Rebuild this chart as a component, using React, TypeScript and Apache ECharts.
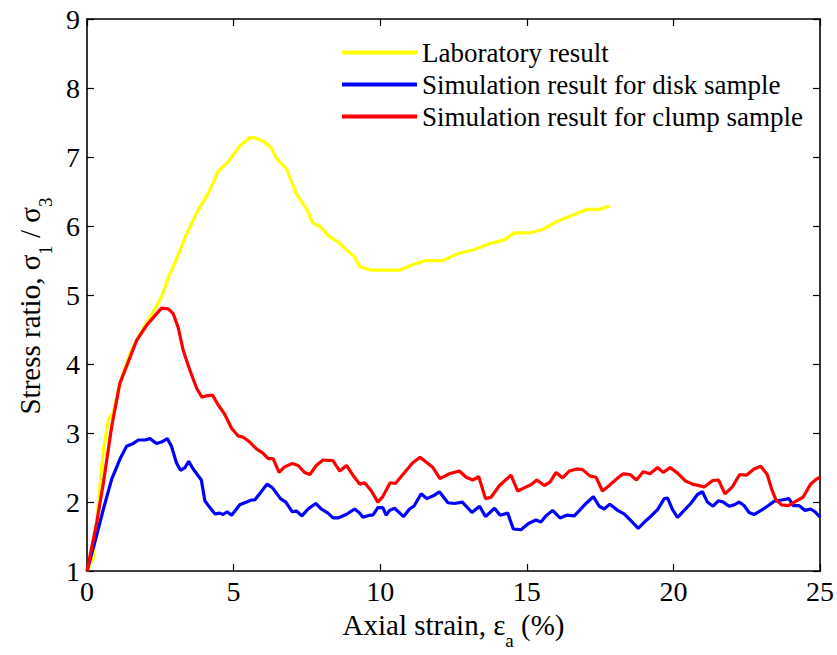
import React, { useEffect, useRef } from "react";
import * as echarts from "echarts";

const xTicks = [0, 5, 10, 15, 20, 25];
const yTicks = [1, 2, 3, 4, 5, 6, 7, 8, 9];

const legendNames = [
  "Laboratory result",
  "Simulation result for disk sample",
  "Simulation result for clump sample",
];

const laboratory: [number, number][] = [
  [0, 1.0], [0.21, 1.18], [0.56, 2.76], [0.73, 3.19], [0.9, 3.31], [1.12, 3.72],
  [1.46, 4.15], [1.81, 4.44], [2.15, 4.68], [2.54, 4.97], [2.77, 5.25], [3.05, 5.52],
  [3.34, 5.83], [3.74, 6.19], [4.13, 6.47], [4.47, 6.79], [4.81, 6.93], [5.21, 7.16],
  [5.55, 7.28], [5.72, 7.28], [6.01, 7.23], [6.29, 7.13], [6.46, 6.98], [6.8, 6.83],
  [7.14, 6.47], [7.54, 6.21], [7.69, 6.05], [7.96, 5.99], [8.25, 5.85], [8.56, 5.77],
  [8.84, 5.66], [9.13, 5.55], [9.3, 5.41], [9.69, 5.36], [10.66, 5.36], [11.17, 5.45],
  [11.57, 5.5], [12.13, 5.5], [12.65, 5.6], [13.22, 5.66], [13.78, 5.75], [14.24, 5.8],
  [14.58, 5.9], [15.09, 5.9], [15.54, 5.95], [16.0, 6.06], [16.51, 6.15], [17.04, 6.24],
  [17.47, 6.24], [17.84, 6.29],
];

const diskSample: [number, number][] = [
  [0, 1.0], [0.33, 1.52], [0.56, 1.9], [0.84, 2.33], [1.12, 2.62], [1.35, 2.81],
  [1.58, 2.85], [1.75, 2.9], [1.98, 2.9], [2.15, 2.92], [2.37, 2.85], [2.54, 2.87],
  [2.74, 2.92], [2.88, 2.81], [3.05, 2.57], [3.19, 2.46], [3.34, 2.5], [3.47, 2.59],
  [3.62, 2.48], [3.9, 2.32], [4.02, 2.02], [4.19, 1.92], [4.36, 1.83], [4.53, 1.84],
  [4.64, 1.82], [4.78, 1.86], [4.93, 1.81], [5.21, 1.96], [5.44, 2.0], [5.61, 2.03],
  [5.72, 2.03], [5.89, 2.12], [6.14, 2.26], [6.32, 2.21], [6.6, 2.05], [6.78, 2.0],
  [7.0, 1.86], [7.14, 1.87], [7.33, 1.8], [7.54, 1.9], [7.8, 1.98], [7.99, 1.9],
  [8.22, 1.84], [8.39, 1.77], [8.56, 1.77], [8.84, 1.82], [9.13, 1.9], [9.3, 1.84],
  [9.41, 1.78], [9.64, 1.81], [9.75, 1.81], [9.92, 1.92], [10.09, 1.92], [10.2, 1.81],
  [10.32, 1.88], [10.49, 1.91], [10.8, 1.79], [11.0, 1.9], [11.15, 1.94], [11.4, 2.12],
  [11.59, 2.05], [11.85, 2.1], [12.02, 2.15], [12.31, 1.99], [12.53, 1.98], [12.8, 2.0],
  [13.13, 1.85], [13.39, 1.94], [13.59, 1.79], [13.9, 1.91], [14.09, 1.81], [14.35, 1.84],
  [14.54, 1.61], [14.8, 1.6], [15.06, 1.69], [15.31, 1.74], [15.48, 1.71], [15.65, 1.8],
  [15.88, 1.88], [16.13, 1.77], [16.36, 1.81], [16.62, 1.8], [17.02, 1.98], [17.27, 2.08],
  [17.47, 1.94], [17.64, 1.9], [17.83, 1.97], [18.1, 1.88], [18.32, 1.83], [18.55, 1.73],
  [18.8, 1.62], [19.06, 1.73], [19.27, 1.81], [19.46, 1.89], [19.69, 2.05], [19.8, 2.06],
  [19.97, 1.89], [20.14, 1.78], [20.37, 1.88], [20.59, 1.98], [20.82, 2.11], [20.99, 2.15],
  [21.16, 2.0], [21.35, 1.94], [21.54, 2.02], [21.7, 2.0], [21.9, 1.94], [22.07, 1.96],
  [22.24, 2.0], [22.41, 1.95], [22.58, 1.85], [22.75, 1.82], [23.03, 1.89], [23.24, 1.95],
  [23.43, 2.01], [23.69, 2.03], [23.94, 2.05], [24.08, 1.95], [24.28, 1.95], [24.49, 1.88],
  [24.68, 1.9], [24.83, 1.86], [25.0, 1.78],
];

const clumpSample: [number, number][] = [
  [0, 1.0], [0.33, 1.7], [0.56, 2.28], [0.84, 3.09], [1.12, 3.72], [1.69, 4.34],
  [2.03, 4.56], [2.54, 4.81], [2.77, 4.8], [2.94, 4.73], [3.11, 4.53], [3.28, 4.2],
  [3.51, 3.91], [3.74, 3.65], [3.92, 3.52], [4.08, 3.54], [4.28, 3.55], [4.47, 3.41],
  [4.7, 3.27], [4.93, 3.07], [5.15, 2.96], [5.33, 2.94], [5.55, 2.87], [5.78, 2.77],
  [6.0, 2.71], [6.18, 2.63], [6.35, 2.63], [6.55, 2.43], [6.74, 2.51], [7.0, 2.56],
  [7.2, 2.53], [7.42, 2.43], [7.6, 2.4], [7.82, 2.53], [8.05, 2.61], [8.39, 2.6],
  [8.62, 2.45], [8.85, 2.53], [9.07, 2.39], [9.3, 2.26], [9.47, 2.28], [9.7, 2.16],
  [9.92, 2.0], [10.09, 2.08], [10.34, 2.28], [10.52, 2.27], [10.83, 2.43], [11.11, 2.57],
  [11.36, 2.65], [11.8, 2.5], [12.04, 2.34], [12.36, 2.41], [12.7, 2.45], [12.93, 2.36],
  [13.16, 2.32], [13.36, 2.37], [13.59, 2.05], [13.78, 2.07], [14.07, 2.24], [14.46, 2.39],
  [14.69, 2.16], [14.98, 2.22], [15.14, 2.25], [15.34, 2.32], [15.6, 2.24], [15.79, 2.29],
  [16.0, 2.43], [16.22, 2.35], [16.45, 2.45], [16.7, 2.48], [16.9, 2.47], [17.15, 2.38],
  [17.36, 2.36], [17.58, 2.16], [17.81, 2.24], [18.13, 2.36], [18.29, 2.41], [18.52, 2.4],
  [18.74, 2.32], [18.97, 2.44], [19.2, 2.41], [19.46, 2.5], [19.65, 2.43], [19.89, 2.5],
  [20.14, 2.42], [20.4, 2.31], [20.65, 2.26], [21.05, 2.22], [21.33, 2.31], [21.54, 2.32],
  [21.76, 2.12], [22.01, 2.22], [22.26, 2.4], [22.49, 2.39], [22.75, 2.48], [22.98, 2.52],
  [23.2, 2.4], [23.35, 2.19], [23.49, 2.04], [23.69, 1.96], [23.92, 1.95], [24.17, 2.01],
  [24.42, 2.07], [24.68, 2.26], [24.87, 2.33], [25.0, 2.36],
];

const FONT = "'Liberation Serif', 'Times New Roman', serif";

export default function App() {
  const ref = useRef<HTMLDivElement>(null);
  useEffect(() => {
    if (!ref.current) return;
    const chart = echarts.init(ref.current, null, { renderer: "svg" });
    const tickStyle = { show: true, inside: true, length: 7, lineStyle: { color: "#000", width: 1.2 } };
    const lineStyle = { color: "#000", width: 1.6 };
    const richTitle = {
      n: { fontSize: 29, fontFamily: FONT, color: "#000", lineHeight: 30, verticalAlign: "top" as const },
      s: { fontSize: 19, fontFamily: FONT, color: "#000", lineHeight: 19, padding: [21, 0, 0, 0], verticalAlign: "top" as const },
    };
    chart.setOption({
      animation: false,
      backgroundColor: "#fff",
      grid: { left: 87, right: 16, top: 19, bottom: 79 },
      legend: {
        orient: "vertical",
        left: 337,
        top: 34,
        itemWidth: 75,
        itemHeight: 4,
        itemGap: 5,
        icon: "rect",
        data: legendNames,
        textStyle: { fontSize: 27, fontFamily: FONT, color: "#000", lineHeight: 26 },
        selectedMode: false,
      },
      xAxis: [
        {
          type: "value",
          min: xTicks[0],
          max: xTicks[xTicks.length - 1],
          interval: 5,
          axisLine: { show: true, lineStyle },
          axisTick: tickStyle,
          splitLine: { show: false },
          axisLabel: { fontSize: 28, fontFamily: FONT, color: "#000", margin: 6 },
          name: "{n|Axial strain, ε}{s|a}{n| (%)}",
          nameLocation: "middle",
          nameGap: 37,
          nameTextStyle: { rich: richTitle },
        },
        {
          type: "value",
          position: "top",
          min: xTicks[0],
          max: xTicks[xTicks.length - 1],
          interval: 5,
          axisLine: { show: true, onZero: false, lineStyle },
          axisTick: tickStyle,
          splitLine: { show: false },
          axisLabel: { show: false },
        },
      ],
      yAxis: [
        {
          type: "value",
          min: yTicks[0],
          max: yTicks[yTicks.length - 1],
          interval: 1,
          axisLine: { show: true, lineStyle },
          axisTick: tickStyle,
          splitLine: { show: false },
          axisLabel: { fontSize: 28, fontFamily: FONT, color: "#000", margin: 7 },
          name: "{n|Stress ratio, σ}{s|1}{n| / σ}{s|3}",
          nameLocation: "middle",
          nameGap: 38,
          nameRotate: 90,
          nameTextStyle: { rich: richTitle, padding: [0, 22, 0, 0] },
        },
        {
          type: "value",
          position: "right",
          min: yTicks[0],
          max: yTicks[yTicks.length - 1],
          interval: 1,
          axisLine: { show: true, onZero: false, lineStyle },
          axisTick: tickStyle,
          splitLine: { show: false },
          axisLabel: { show: false },
        },
      ],
      series: [
        {
          name: legendNames[0],
          type: "line",
          data: laboratory,
          showSymbol: false,
          symbol: "none",
          lineStyle: { color: "#ffff00", width: 3.2 },
          itemStyle: { color: "#ffff00" },
        },
        {
          name: legendNames[1],
          type: "line",
          data: diskSample,
          showSymbol: false,
          symbol: "none",
          lineStyle: { color: "#0000ff", width: 3.2 },
          itemStyle: { color: "#0000ff" },
        },
        {
          name: legendNames[2],
          type: "line",
          data: clumpSample,
          showSymbol: false,
          symbol: "none",
          lineStyle: { color: "#ff0000", width: 3.2 },
          itemStyle: { color: "#ff0000" },
        },
      ],
    });
    return () => chart.dispose();
  }, []);
  return (
    <div
      ref={ref}
      style={{ position: "fixed", left: 0, top: 0, width: 837, height: 655, background: "#fff" }}
    />
  );
}
